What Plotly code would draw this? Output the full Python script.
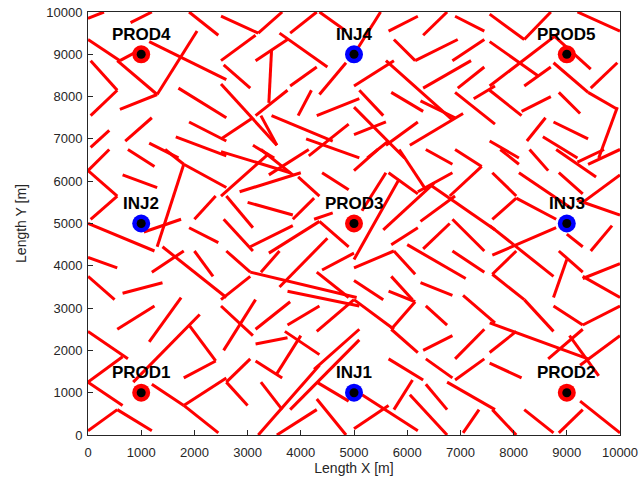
import plotly.graph_objects as go

# Fracture segments: [x1, y1, x2, y2] in metres
fractures = [
    [0,9850,300,10000],[800,9750,1200,10000],[1900,10000,2450,9450],[0,9350,600,8850],
    [600,8850,900,9050],[1150,9300,2600,8400],[2050,9550,1300,8050],[550,8150,50,8850],
    [550,8150,50,7550],[550,8850,1300,8050],[600,7700,1300,8050],[1200,7500,700,6950],
    [50,6800,400,7200],[1700,8200,2600,7500],[1900,7400,2600,6950],[1650,7050,2600,6600],
    [1150,6900,1700,6550],
    [2500,9900,3200,9500],[3200,9500,3650,10000],[3800,9500,4300,10000],[4350,10000,4850,9550],
    [2500,8850,3150,9450],[3150,8850,3750,9350],[3600,9500,4500,8700],[3450,9100,3400,7850],
    [2550,8750,3050,8200],[3800,8250,4300,8700],[4850,8800,4350,8050],[4200,8150,3950,7550],
    [2500,8300,3550,6850],[3150,7550,3750,8150],[3450,7550,4600,6950],[3250,7550,3550,6850],
    [4300,7550,5100,7950],[2500,7000,3100,7500],[3100,6850,3500,6550],[4100,7000,5100,6550],
    [4150,6600,4900,7350],[5000,9000,5500,10000],
    [5650,9550,6200,9900],[6300,9450,6750,10000],[5750,9350,6150,8850],[6150,8850,6950,9350],
    [6900,9900,7450,9550],[6850,8850,7450,9350],[5000,8250,5750,8850],[5600,8850,6850,7450],
    [6300,8200,7200,8850],[6950,8200,7450,8700],[7250,7950,7650,8250],[5100,8150,5550,7550],
    [5700,8100,6300,7650],[6250,7900,6900,7500],[6900,8100,7650,7350],[5000,7100,5600,7400],
    [5600,6850,6200,7400],[6050,6850,7050,7600],[5250,6550,5650,6950],[5000,7750,5950,6550],
    [7550,9950,8200,9350],[8200,9350,8700,10000],[7550,9300,8450,8500],[7550,8250,8850,9500],
    [8200,8250,8700,8700],[8750,9450,9450,8650],[8750,8800,9400,8100],[9400,8100,9950,7700],
    [9450,8200,9950,8800],[9200,10000,10000,9550],[7550,8150,8150,7550],[8150,7650,8700,8000],
    [8850,8100,9250,7600],[8250,6950,8600,7500],[8750,7400,9400,7000],[8550,7050,9200,6550],
    [7550,6950,8100,6550],[9950,7750,9600,6550],
    [0,6250,400,6750],[0,6250,550,5650],[750,6750,1250,6350],[650,6150,1300,5850],
    [50,5100,550,5650],[1800,6400,1300,4450],[1450,6750,1800,6400],[1800,6400,2600,5850],
    [0,5000,1250,4350],[1050,4800,1750,5100],[2000,5100,2400,5650],[0,4200,550,3950],
    [1200,3850,1800,4350],[1400,4450,2600,3250],[2000,4350,2350,3750],[1900,4900,2450,4550],
    [0,3750,500,3200],[650,3350,1400,3600],
    [2500,6700,3800,6200],[3250,6750,3850,6150],[2500,5650,3400,6650],[3400,6150,4150,6750],
    [2850,5750,4000,6200],[3950,6100,4350,5650],[4400,6200,4900,5800],[3000,5500,3850,5200],
    [2550,5100,3100,4350],[2600,5650,3100,4900],[3850,5100,4250,5600],[3050,4450,3850,4950],
    [3400,4300,4350,5050],[4250,5100,4600,5250],[4350,5050,4900,4450],[3600,3500,4500,4650],
    [3250,3850,3600,4350],[2600,4350,3050,3850],[3050,3850,5050,3250],[4400,3900,5000,4300],
    [4300,3850,4900,3250],[2500,3200,3050,3750],
    [5000,6250,5450,6750],[5150,5300,5600,6200],[5850,6750,6350,5800],[5650,6200,6200,5700],
    [6350,6750,6850,6400],[6200,5750,6850,6200],[6900,6750,7400,6350],[5550,4850,6500,5950],
    [6450,5900,7650,4850],[6250,5050,6900,5650],[6800,5650,7400,6350],[5000,4150,5850,6050],
    [5700,4500,6200,4900],[6300,4400,6800,5000],[5000,3950,5750,4350],[5750,4350,6150,3800],
    [6000,4500,7100,3700],[6850,5100,7450,4350],[6850,4350,7450,3850],[5700,3750,6100,3200],
    [6250,3600,6850,3300],[5000,3650,5550,3200],
    [7750,6750,8100,6400],[8300,6750,8650,6250],[8800,6750,9550,6100],[9200,6450,9700,6750],
    [9400,6400,10000,6750],[7600,6200,8050,5650],[8100,6200,9100,5350],[8850,6200,9300,5700],
    [9300,5500,10000,6150],[7600,5100,8050,5600],[8050,5600,8800,5100],[9200,5550,10000,5200],
    [7600,4250,8800,4900],[9000,4750,9300,4450],[9450,4350,9850,4950],[7550,4950,8000,4500],
    [8000,4500,8750,3750],[8850,4350,9300,3850],[7600,3800,8050,4350],[8750,3250,9000,4150],
    [9300,3700,10000,4050],[9300,3750,10000,3250],[7600,3800,8200,3200],
    [550,2500,1250,3050],[0,2450,750,1800],[1150,2200,1750,3250],[0,1250,650,1850],
    [850,1250,2100,2850],[1900,2600,2400,1750],[2400,1750,1800,1350],[0,1250,650,700],
    [1200,1200,1800,700],[1800,700,2600,1350],[1800,700,2450,50],[0,100,550,600],
    [550,600,1200,100],
    [2500,3050,3100,2350],[2550,2000,3150,3200],[3150,2500,3800,3150],[3750,2600,4350,3050],
    [4300,2450,5000,3200],[3750,3400,5100,3050],[3150,2150,3750,2300],[3700,2450,4350,1900],
    [2600,1250,3050,1800],[3150,1750,3650,1350],[3550,1450,4000,2350],[4250,1550,5100,2500],
    [2600,1250,3000,700],[3250,1250,3650,600],[3200,0,4350,1650],[3550,0,4300,600],
    [3800,600,5100,2250],[4300,1250,4900,800],[4300,850,4850,0],
    [5000,3200,5750,2500],[5700,2500,6200,1950],[6350,3050,6750,2600],[6300,2000,6850,2350],
    [6900,1800,7450,2500],[7050,3300,7650,2650],[5650,1800,6300,1300],[6350,1800,6850,1350],
    [6900,1300,7450,1800],[5150,950,6200,100],[5000,150,5650,700],[5750,600,6100,1300],
    [6050,950,6750,0],[6350,1200,6750,600],[6750,1250,7650,600],[7050,50,7350,600],
    [5650,3400,6150,3150],[6150,3150,5700,2500],
    [8200,3200,8750,2450],[8750,3050,9300,2600],[7550,2650,9400,1800],[9300,2600,10000,3050],
    [7550,1950,8050,2450],[7550,1700,8150,1350],[8650,1800,9300,2500],[9050,2350,9600,1400],
    [9250,1650,10000,2350],[7600,600,8050,0],[8200,600,8750,50],[8850,50,9300,600],
    [9250,800,10000,50],
]

# Wells
prod_names = ["PROD1", "PROD2", "PROD3", "PROD4", "PROD5"]
prod_x = [1000, 9000, 5000, 1000, 9000]
prod_y = [1000, 1000, 5000, 9000, 9000]
inj_names = ["INJ1", "INJ2", "INJ3", "INJ4"]
inj_x = [5000, 1000, 9000, 5000]
inj_y = [1000, 5000, 5000, 9000]

tick_vals = list(range(0, 10001, 1000))
tick_text = [str(v) for v in tick_vals]

FONT = "Liberation Sans, Arial, sans-serif"

fx, fy = [], []
for x1, y1, x2, y2 in fractures:
    fx += [x1, x2, None]
    fy += [y1, y2, None]

fig = go.Figure()
fig.add_trace(go.Scatter(x=fx, y=fy, mode="lines",
                         line=dict(color="#ff0000", width=3), hoverinfo="skip"))
fig.add_trace(go.Scatter(x=prod_x, y=prod_y, mode="markers",
                         marker=dict(size=18, color="#ff0000")))
fig.add_trace(go.Scatter(x=inj_x, y=inj_y, mode="markers",
                         marker=dict(size=18, color="#0000ff")))
fig.add_trace(go.Scatter(x=prod_x + inj_x, y=prod_y + inj_y, mode="markers",
                         marker=dict(size=9, color="black")))

for n, x, y in zip(prod_names + inj_names, prod_x + inj_x, prod_y + inj_y):
    fig.add_annotation(x=x, y=y, text="<b>" + n + "</b>", showarrow=False, yshift=20,
                       font=dict(family=FONT, size=17, color="black"))

axis_common = dict(range=[0, 10000], tickvals=tick_vals, ticktext=tick_text,
                   ticks="inside", ticklen=5, tickcolor="#262626",
                   showline=True, linecolor="#262626", linewidth=1, mirror=True,
                   showgrid=False, zeroline=False, automargin=False,
                   tickfont=dict(family=FONT, size=13, color="#262626"))

fig.update_layout(
    width=642, height=492,
    margin=dict(l=88, r=22, t=12, b=57, autoexpand=False),
    paper_bgcolor="white", plot_bgcolor="white",
    showlegend=False,
    xaxis=dict(title=dict(text="Length X [m]", font=dict(family=FONT, size=14, color="#262626"), standoff=4),
               ticklabelstandoff=5, **axis_common),
    yaxis=dict(title=dict(text="Length Y [m]", font=dict(family=FONT, size=14, color="#262626"), standoff=16),
               ticklabelstandoff=2, **axis_common),
)

fig.write_html("out.html", config={"displayModeBar": False},
               post_script="document.body.style.margin='0';")
